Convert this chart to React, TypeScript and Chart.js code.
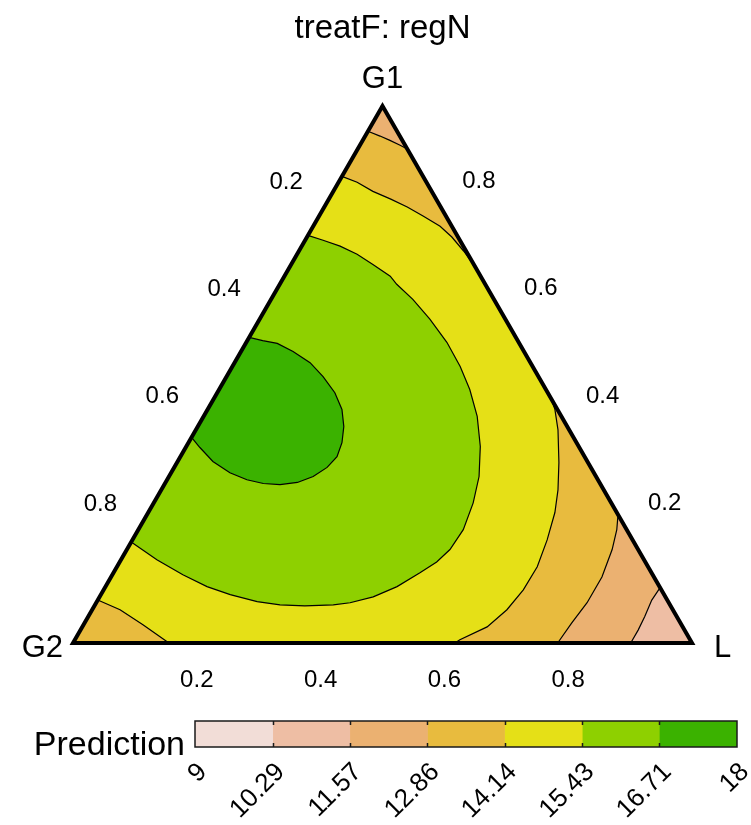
import React, { useEffect, useRef } from 'react';
import { Chart, registerables } from 'chart.js';

Chart.register(...registerables);

const FONT = '"Liberation Sans", Arial, Helvetica, sans-serif';
const SQ3_2 = Math.sqrt(3) / 2;

const title = 'treatF: regN';
const vertexNames = ['G1', 'G2', 'L'];
const axisTicks = [0.2, 0.4, 0.6, 0.8];

const levels = [9, 10.29, 11.57, 12.86, 14.14, 15.43, 16.71, 18];
const levelLabels = ['9', '10.29', '11.57', '12.86', '14.14', '15.43', '16.71', '18'];
const levelColors = ['#F2DDD7', '#EEBEA4', '#EBB171', '#E8BB3E', '#E5E017', '#8ED000', '#3BB200'];
const legendTitle = 'Prediction';

// Contour lines of the fitted prediction, points as [G1, G2, L]
const contour1671 = [
  [0.569, 0.431, 0], [0.563, 0.412, 0.025], [0.558, 0.391, 0.051], [0.543, 0.373, 0.084],
  [0.522, 0.356, 0.122], [0.496, 0.348, 0.156], [0.466, 0.344, 0.19], [0.435, 0.348, 0.217],
  [0.403, 0.361, 0.236], [0.373, 0.379, 0.248], [0.347, 0.4, 0.253], [0.327, 0.426, 0.247],
  [0.31, 0.457, 0.233], [0.299, 0.488, 0.213], [0.295, 0.518, 0.187], [0.297, 0.544, 0.159],
  [0.304, 0.567, 0.129], [0.317, 0.588, 0.095], [0.338, 0.605, 0.057], [0.364, 0.613, 0.023],
  [0.383, 0.617, 0],
];

const contour1543 = [
  [0.759, 0.241, 0], [0.75, 0.221, 0.029], [0.739, 0.199, 0.062], [0.724, 0.179, 0.097],
  [0.705, 0.163, 0.132], [0.683, 0.146, 0.171], [0.668, 0.143, 0.189], [0.64, 0.131, 0.229],
  [0.603, 0.122, 0.275], [0.56, 0.116, 0.324], [0.515, 0.117, 0.368], [0.472, 0.123, 0.405],
  [0.422, 0.136, 0.442], [0.366, 0.159, 0.475], [0.31, 0.189, 0.501], [0.261, 0.223, 0.516],
  [0.211, 0.264, 0.525], [0.174, 0.304, 0.522], [0.151, 0.337, 0.512], [0.131, 0.374, 0.495],
  [0.105, 0.424, 0.471], [0.086, 0.472, 0.442], [0.075, 0.515, 0.41], [0.071, 0.544, 0.385],
  [0.069, 0.591, 0.34], [0.071, 0.63, 0.299], [0.077, 0.664, 0.259], [0.09, 0.701, 0.209],
  [0.105, 0.731, 0.164], [0.127, 0.759, 0.114], [0.155, 0.787, 0.058], [0.188, 0.812, 0],
];

const contour1414Top = [
  [0.869, 0.131, 0], [0.858, 0.112, 0.03], [0.841, 0.095, 0.064], [0.827, 0.074, 0.099],
  [0.812, 0.054, 0.134], [0.795, 0.037, 0.168], [0.776, 0.019, 0.205], [0.756, 0.01, 0.234],
  [0.73, 0.004, 0.266], [0.701, 0, 0.299],
];

const contour1414Right = [
  [0.455, 0, 0.545], [0.435, 0.004, 0.561], [0.397, 0.018, 0.585], [0.336, 0.047, 0.617],
  [0.285, 0.074, 0.641], [0.243, 0.1, 0.657], [0.192, 0.138, 0.67], [0.142, 0.179, 0.679],
  [0.099, 0.223, 0.678], [0.062, 0.268, 0.67], [0.03, 0.316, 0.654], [0.006, 0.372, 0.622],
  [0, 0.383, 0.617],
];

const contour1414Left = [
  [0.08, 0.92, 0], [0.062, 0.893, 0.045], [0.034, 0.87, 0.096], [0, 0.845, 0.155],
];

const contour1286Top = [
  [0.953, 0.047, 0], [0.944, 0.032, 0.024], [0.936, 0.02, 0.044], [0.927, 0.008, 0.065],
  [0.92, 0, 0.08],
];

const contour1286Right = [
  [0.239, 0, 0.761], [0.211, 0.016, 0.773], [0.174, 0.042, 0.784], [0.123, 0.084, 0.793],
  [0.075, 0.132, 0.793], [0.037, 0.176, 0.787], [0, 0.217, 0.783],
];

const contour1157 = [
  [0.103, 0, 0.897], [0.08, 0.025, 0.895], [0.049, 0.052, 0.899], [0.024, 0.075, 0.901],
  [0, 0.099, 0.901],
];

const V_G1 = [1, 0, 0];
const V_G2 = [0, 1, 0];
const V_L = [0, 0, 1];

type Tern = number[];
const toXY = (p: Tern) => ({ x: p[2] + p[0] / 2, y: p[0] * SQ3_2 });

// Filled bands: each polygon is the region above a level, painted in order
const regions: { color: string; pts: Tern[] }[] = [
  { color: levelColors[1], pts: [V_G2, V_G1, V_L] },
  { color: levelColors[2], pts: [V_G2, V_G1, ...contour1157] },
  { color: levelColors[3], pts: [V_G2, ...contour1286Top, ...contour1286Right] },
  { color: levelColors[4], pts: [...contour1414Top, ...contour1414Right, ...[...contour1414Left].reverse()] },
  { color: levelColors[5], pts: contour1543 },
  { color: levelColors[6], pts: contour1671 },
];

const contourLines = [
  contour1671, contour1543, contour1414Top, contour1414Right, contour1414Left,
  contour1286Top, contour1286Right, contour1157,
];

const shapeFill = {
  id: 'shapeFill',
  beforeDatasetDraw(chart: any, args: any) {
    const ds = chart.data.datasets[args.index];
    if (!ds.shapeColor) return;
    const line = args.meta.dataset;
    const ctx = chart.ctx;
    ctx.save();
    ctx.beginPath();
    line.path(ctx);
    ctx.closePath();
    ctx.fillStyle = ds.shapeColor;
    ctx.fill();
    ctx.restore();
  },
};

const ternaryText = {
  id: 'ternaryText',
  afterDraw(chart: any) {
    const { ctx, scales } = chart;
    const px = (p: Tern) => {
      const q = toXY(p);
      return [scales.x.getPixelForValue(q.x), scales.y.getPixelForValue(q.y)];
    };
    ctx.save();
    ctx.fillStyle = '#000';
    ctx.textBaseline = 'alphabetic';

    ctx.font = `33px ${FONT}`;
    ctx.textAlign = 'center';
    ctx.fillText(title, px(V_G1)[0], 38);

    ctx.font = `31px ${FONT}`;
    const [tx, ty] = px(V_G1);
    ctx.textAlign = 'center';
    ctx.fillText(vertexNames[0], tx, ty - 18);
    const [lx, ly] = px(V_G2);
    ctx.textAlign = 'right';
    ctx.fillText(vertexNames[1], lx - 10, ly + 14);
    const [rx, ry] = px(V_L);
    ctx.textAlign = 'left';
    ctx.fillText(vertexNames[2], rx + 22, ry + 14);

    ctx.font = `24px ${FONT}`;
    ctx.textAlign = 'center';
    ctx.textBaseline = 'middle';
    axisTicks.forEach((t) => {
      const s = t.toFixed(1);
      const a = px([1 - t, t, 0]);
      ctx.fillText(s, a[0] - 34.5, a[1] - 31.5);
      const b = px([t, 0, 1 - t]);
      ctx.fillText(s, b[0] + 34.5, b[1] - 32);
      const c = px([0, 1 - t, t]);
      ctx.fillText(s, c[0], c[1] + 37);
    });
    ctx.restore();
  },
};

const colorbarFrame = {
  id: 'colorbarFrame',
  afterDatasetsDraw(chart: any) {
    const { ctx, chartArea: a, scales } = chart;
    ctx.save();
    ctx.strokeStyle = '#1a1a1a';
    ctx.lineWidth = 1.5;
    levels.slice(1, -1).forEach((v) => {
      const p = Math.round(scales.x.getPixelForValue(v)) + 0.5;
      ctx.beginPath();
      ctx.moveTo(p, a.top);
      ctx.lineTo(p, a.top + 4);
      ctx.moveTo(p, a.bottom);
      ctx.lineTo(p, a.bottom - 4);
      ctx.stroke();
    });
    ctx.strokeRect(a.left, a.top, a.right - a.left, a.bottom - a.top);
    ctx.fillStyle = '#000';
    ctx.font = `34px ${FONT}`;
    ctx.textAlign = 'right';
    ctx.textBaseline = 'alphabetic';
    ctx.fillText(legendTitle, a.left - 10, a.bottom + 8);
    ctx.restore();
  },
};

export default function App() {
  const mainRef = useRef<HTMLCanvasElement | null>(null);
  const barRef = useRef<HTMLCanvasElement | null>(null);

  useEffect(() => {
    const base = {
      pointRadius: 0,
      pointHoverRadius: 0,
      tension: 0,
      fill: false,
      clip: false as const,
    };
    const datasets: any[] = [];
    regions.forEach((r, i) => {
      datasets.push({
        ...base,
        data: r.pts.map(toXY),
        shapeColor: r.color,
        borderWidth: 0,
        borderColor: 'rgba(0,0,0,0)',
        order: 100 - i,
      });
    });
    contourLines.forEach((c) => {
      datasets.push({
        ...base,
        data: c.map(toXY),
        borderColor: '#000',
        borderWidth: 1.2,
        order: 10,
      });
    });
    datasets.push({
      ...base,
      data: [V_G2, V_G1, V_L, V_G2, V_G1].map(toXY),
      borderColor: '#000',
      borderWidth: 4,
      borderJoinStyle: 'miter',
      order: 0,
    });

    const main = new Chart(mainRef.current!, {
      type: 'line',
      data: { datasets },
      options: {
        animation: false,
        responsive: false,
        devicePixelRatio: 1,
        events: [],
        layout: { padding: { left: 73, right: 59, top: 106, bottom: 57 } },
        plugins: { legend: { display: false }, tooltip: { enabled: false }, title: { display: false } },
        scales: {
          x: { type: 'linear', min: 0, max: 1, display: false },
          y: { type: 'linear', min: 0, max: SQ3_2, display: false },
        },
      },
      plugins: [shapeFill, ternaryText],
    });

    const bar = new Chart(barRef.current!, {
      type: 'bar',
      data: {
        labels: [legendTitle],
        datasets: levelColors.map((c, i) => ({
          data: [[levels[i], levels[i + 1]]],
          backgroundColor: c,
          borderWidth: 0,
          barPercentage: 1,
          categoryPercentage: 1,
          grouped: false,
        })) as any,
      },
      options: {
        indexAxis: 'y',
        animation: false,
        responsive: false,
        devicePixelRatio: 1,
        events: [],
        layout: { padding: { left: 195, right: 14, top: 21, bottom: 0 } },
        plugins: { legend: { display: false }, tooltip: { enabled: false } },
        scales: {
          x: {
            type: 'linear',
            min: levels[0],
            max: levels[levels.length - 1],
            afterBuildTicks: (s: any) => {
              s.ticks = levels.map((v) => ({ value: v }));
            },
            afterFit: (s: any) => {
              s.height = 78;
              s.paddingLeft = 0;
              s.paddingRight = 0;
            },
            grid: { display: false, drawTicks: false },
            border: { display: false },
            ticks: {
              autoSkip: false,
              minRotation: 45,
              maxRotation: 45,
              padding: 10,
              labelOffset: 8,
              color: '#000',
              font: { size: 26, family: FONT },
              callback: (_v: any, i: number) => levelLabels[i],
            },
          },
          y: { display: false },
        },
      },
      plugins: [colorbarFrame],
    });

    return () => {
      main.destroy();
      bar.destroy();
    };
  }, []);

  return (
    <div style={{ position: 'absolute', left: 0, top: 0, width: 751, height: 825, background: '#fff' }}>
      <canvas ref={mainRef} width={751} height={700} style={{ display: 'block' }} />
      <canvas ref={barRef} width={751} height={125} style={{ display: 'block' }} />
    </div>
  );
}
